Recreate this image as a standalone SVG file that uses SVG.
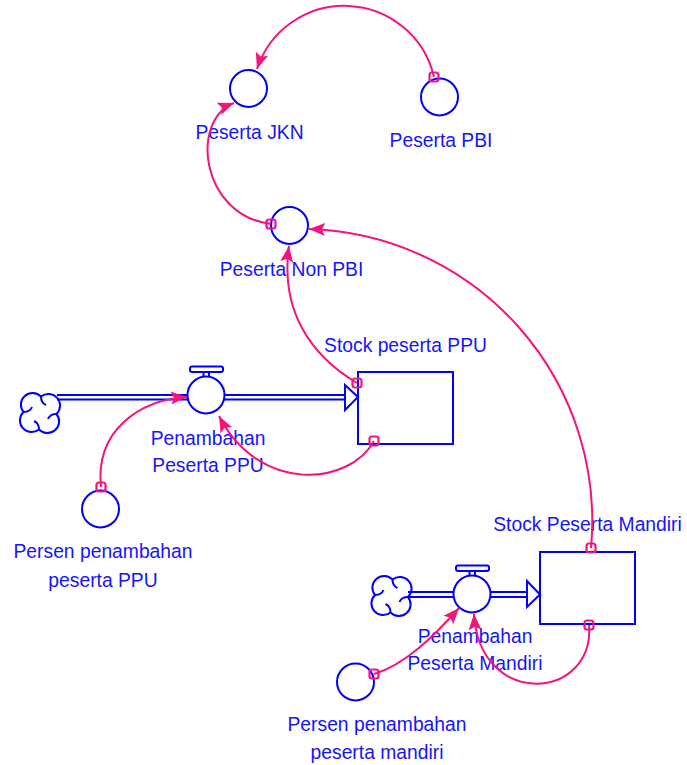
<svg xmlns="http://www.w3.org/2000/svg" width="687" height="765" viewBox="0 0 687 765">
  <style>
    .shape { fill: none; stroke: #0000ff; stroke-width: 2; }
    .fillw { fill: #ffffff; stroke: #0000ff; stroke-width: 2; }
    .pipe { fill: none; stroke: #0000ff; stroke-width: 2.1; }
    .label { font-family: "Liberation Sans", Arial, sans-serif; font-size: 19.3px; fill: #1414ff; text-anchor: middle; }
    .link { fill: none; stroke: #f5147a; stroke-width: 2; marker-end: url(#arrow); }
    .tap { fill: none; stroke: #f5147a; stroke-width: 2.2; }
  </style>
  <defs>
    <marker id="arrow" markerUnits="userSpaceOnUse" markerWidth="18" markerHeight="14" viewBox="-16 -7 17 14" refX="0" refY="0" orient="auto">
      <path d="M0,0 L-16,-6.5 L-13,0 L-16,6.5 Z" fill="#f5147a"/>
    </marker>
    <!-- source/sink cloud -->
    <g id="cloud">
      <path class="shape" d="M 1,-16.5 A 11.7,11.7 0 0 1 16.5,1 A 11.7,11.7 0 0 1 -1,16.5 A 11.7,11.7 0 0 1 -16.5,-1 A 11.7,11.7 0 0 1 1,-16.5 Z"/>
      <path class="shape" d="M 1,-16.5 Q 1,-10 6,-8 M 16.5,1 Q 10,1 8,6 M -1,16.5 Q -1,10 -6,8 M -16.5,-1 Q -10,-1 -8,-6"/>
    </g>
    <!-- flow valve -->
    <g id="valve">
      <rect class="shape" x="-16" y="-28.5" width="33" height="5.5" rx="2"/>
      <rect class="shape" x="-2.5" y="-23" width="5.5" height="5"/>
      <circle class="fillw" cx="0" cy="0" r="18.5"/>
    </g>
  </defs>

  <rect width="687" height="765" fill="#ffffff"/>

  <!-- flow: Penambahan Peserta PPU -->
  <g id="flow-ppu">
    <use href="#cloud" x="40" y="413"/>
    <line class="pipe" x1="57" y1="395" x2="188" y2="395"/>
    <line class="pipe" x1="57" y1="399.5" x2="188" y2="399.5"/>
    <line class="pipe" x1="224" y1="395" x2="345" y2="395"/>
    <line class="pipe" x1="224" y1="399.5" x2="345" y2="399.5"/>
    <path class="shape" d="M345,385 L358,397 L345,410 Z" fill="#ffffff"/>
    <use href="#valve" x="206" y="395"/>
    <text class="label" x="208" y="445">Penambahan</text>
    <text class="label" x="208" y="472">Peserta PPU</text>
  </g>

  <!-- flow: Penambahan Peserta Mandiri -->
  <g id="flow-mandiri">
    <use href="#cloud" x="391.5" y="596"/>
    <line class="pipe" x1="408" y1="592" x2="455" y2="592"/>
    <line class="pipe" x1="408" y1="597" x2="455" y2="597"/>
    <line class="pipe" x1="489" y1="592" x2="528" y2="592"/>
    <line class="pipe" x1="489" y1="597" x2="528" y2="597"/>
    <path class="shape" d="M527,581 L540,594.5 L527,607 Z" fill="#ffffff"/>
    <use href="#valve" x="472" y="594"/>
    <text class="label" x="475" y="643">Penambahan</text>
    <text class="label" x="475" y="670">Peserta Mandiri</text>
  </g>

  <!-- stocks -->
  <g id="stock-ppu">
    <rect class="shape" x="358" y="372" width="95" height="72"/>
    <text class="label" x="405.5" y="352">Stock peserta PPU</text>
  </g>
  <g id="stock-mandiri">
    <rect class="shape" x="540" y="552" width="95" height="72"/>
    <text class="label" x="587.5" y="531">Stock Peserta Mandiri</text>
  </g>

  <!-- auxiliaries -->
  <g id="peserta-jkn">
    <circle class="shape" cx="248.5" cy="88.5" r="18.5"/>
    <text class="label" x="249.5" y="139">Peserta JKN</text>
  </g>
  <g id="peserta-pbi">
    <circle class="shape" cx="439.5" cy="97" r="18.5"/>
    <text class="label" x="441" y="147">Peserta PBI</text>
  </g>
  <g id="peserta-non-pbi">
    <circle class="shape" cx="289.5" cy="225.5" r="18.5"/>
    <text class="label" x="291.5" y="276">Peserta Non PBI</text>
  </g>
  <g id="persen-ppu">
    <circle class="shape" cx="100.5" cy="509" r="18.5"/>
    <text class="label" x="103" y="558">Persen penambahan</text>
    <text class="label" x="103" y="587">peserta PPU</text>
  </g>
  <g id="persen-mandiri">
    <circle class="shape" cx="355.5" cy="682" r="18.5"/>
    <text class="label" x="377" y="731">Persen penambahan</text>
    <text class="label" x="377" y="759">peserta mandiri</text>
  </g>

  <!-- information links -->
  <g id="connectors">
    <path class="link" d="M434,77 A92,92 0 0 0 257,69"/>
    <path class="link" d="M271,224 C200,215 190,120 234,103"/>
    <path class="link" d="M357,383 C310,355 280,310 289,246"/>
    <path class="link" d="M374,441 C350,485 260,495 219,416"/>
    <path class="link" d="M101,487 C95,430 140,400 187,397"/>
    <path class="link" d="M591,548 A292,292 0 0 0 309,229"/>
    <path class="link" d="M589,625 C595,700 480,710 474,614"/>
    <path class="link" d="M374,674 C405,665 435,635 459,608"/>
    <g>
      <rect class="tap" x="429.5" y="72.5" width="9" height="9" rx="2.5"/>
      <rect class="tap" x="266.5" y="219.5" width="9" height="9" rx="2.5"/>
      <rect class="tap" x="352.5" y="378.5" width="9" height="9" rx="2.5"/>
      <rect class="tap" x="369.5" y="436.5" width="9" height="9" rx="2.5"/>
      <rect class="tap" x="96.5" y="482.5" width="9" height="9" rx="2.5"/>
      <rect class="tap" x="586.5" y="543.5" width="9" height="9" rx="2.5"/>
      <rect class="tap" x="584.5" y="620.5" width="9" height="9" rx="2.5"/>
      <rect class="tap" x="369.5" y="669.5" width="9" height="9" rx="2.5"/>
    </g>
  </g>
</svg>
